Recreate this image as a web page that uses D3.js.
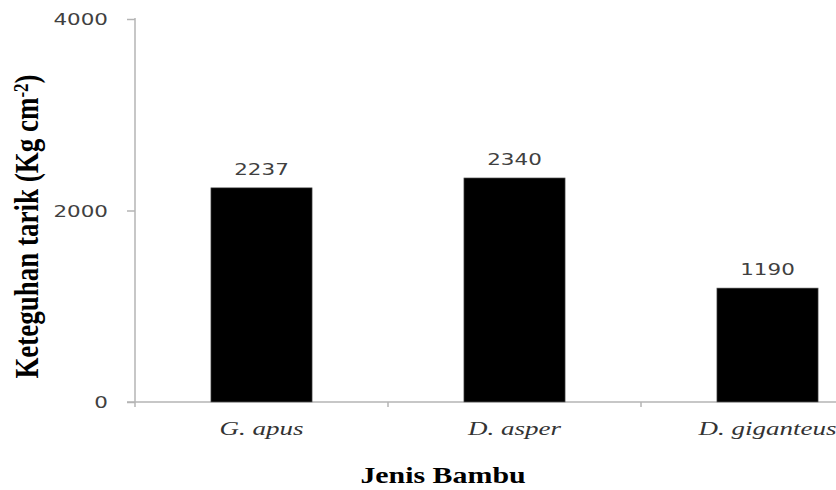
<!DOCTYPE html>
<html>
<head>
<meta charset="utf-8">
<script src="https://cdn.jsdelivr.net/npm/d3@7/dist/d3.min.js"></script>
<style>
  html, body { margin: 0; padding: 0; background: #fff; }
  svg { display: block; }
</style>
</head>
<body>
<svg id="chart" width="836" height="490"></svg>
<script>
const categories = ["G. apus", "D. asper", "D. giganteus"];
const values = [2237, 2340, 1190];
const valueLabels = ["2237", "2340", "1190"];
const yTicks = [0, 2000, 4000];
const yTitle = "Keteguhan tarik (Kg cm";
const xTitle = "Jenis Bambu";

const svg = d3.select("#chart");
const SX = 1.3; // horizontal stretch seen in the reference

const y = d3.scaleLinear().domain([0, 4000]).range([402, 19]);
const x = d3.scaleBand().domain(categories).range([135, 894])
  .paddingInner(0.6).paddingOuter(0.3);

const axisColor = "#b4b4b4";

// Y axis
const gy = svg.append("g").attr("transform", "translate(135,0)")
  .call(d3.axisLeft(y).tickValues(yTicks).tickSize(8).tickFormat(d3.format("d")));
gy.select(".domain").attr("stroke", axisColor).attr("stroke-width", 1.5)
  .attr("d", `M0,${y(4000) - 1}V${y(0) + 5}`);
gy.selectAll(".tick line").attr("stroke", axisColor).attr("stroke-width", 1.5);
gy.selectAll(".tick text")
  .attr("x", 0).attr("dy", "0.36em")
  .attr("transform", `translate(-27,0) scale(${SX},1)`)
  .attr("fill", "#404040")
  .style("font-family", "'DejaVu Sans', Verdana, sans-serif")
  .style("font-size", "16.5px");

// X axis
const gx = svg.append("g").attr("transform", `translate(0,${y(0)})`)
  .call(d3.axisBottom(x).tickSize(0));
gx.select(".domain").remove();
gx.selectAll(".tick text")
  .attr("y", 0).attr("dy", 0)
  .attr("transform", "translate(0,33) scale(1.5,1)")
  .attr("fill", "#333")
  .style("font-family", "'Liberation Serif', 'Times New Roman', serif")
  .style("font-style", "italic")
  .style("font-size", "18px");

svg.append("line")
  .attr("x1", 127).attr("x2", 836)
  .attr("y1", y(0)).attr("y2", y(0))
  .attr("stroke", axisColor).attr("stroke-width", 1.5);

const boundaries = categories.slice(1).map(c => x(c) - x.step() * x.paddingInner() / 2);
svg.selectAll("line.cat-tick").data(boundaries).join("line")
  .attr("class", "cat-tick")
  .attr("x1", d => d).attr("x2", d => d)
  .attr("y1", y(0)).attr("y2", y(0) + 5)
  .attr("stroke", axisColor).attr("stroke-width", 1.5);

// Bars
const data = categories.map((c, i) => ({ c, v: values[i], l: valueLabels[i] }));
svg.selectAll("rect.bar").data(data).join("rect")
  .attr("class", "bar")
  .attr("x", d => x(d.c))
  .attr("y", d => y(d.v))
  .attr("width", x.bandwidth())
  .attr("height", d => y(0) - y(d.v))
  .attr("fill", "#000")
  .attr("stroke", "#6a6a6a").attr("stroke-width", 0.6);

// Value labels
svg.selectAll("text.vlabel").data(data).join("text")
  .attr("class", "vlabel")
  .attr("text-anchor", "middle")
  .attr("transform", d => `translate(${x(d.c) + x.bandwidth() / 2},${y(d.v) - 13}) scale(${SX},1)`)
  .attr("fill", "#404040")
  .style("font-family", "'DejaVu Sans', Verdana, sans-serif")
  .style("font-size", "16.5px")
  .text(d => d.l);

// Y title
const yt = svg.append("text")
  .attr("text-anchor", "middle")
  .attr("transform", `translate(38,226.5) scale(1.25,1) rotate(-90)`)
  .attr("fill", "#000")
  .style("font-family", "'Liberation Serif', 'Times New Roman', serif")
  .style("font-weight", "bold")
  .style("font-size", "27px");
yt.append("tspan").text(yTitle);
yt.append("tspan").attr("dy", "-0.45em").style("font-size", "17px").text("-2");
yt.append("tspan").attr("dy", "0.28em").text(")");

// X title
svg.append("text")
  .attr("text-anchor", "middle")
  .attr("transform", `translate(443,483) scale(${SX},1)`)
  .attr("fill", "#000")
  .style("font-family", "'Liberation Serif', 'Times New Roman', serif")
  .style("font-weight", "bold")
  .style("font-size", "23px")
  .text(xTitle);
</script>
</body>
</html>
